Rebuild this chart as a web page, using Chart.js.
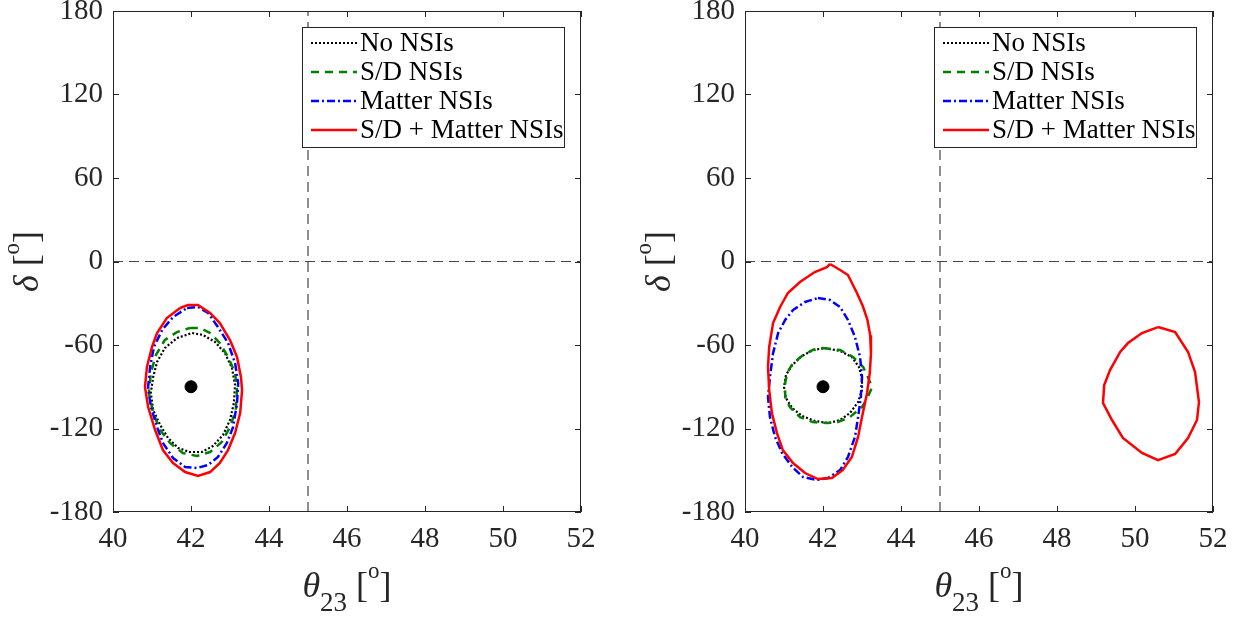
<!DOCTYPE html>
<html>
<head>
<meta charset="utf-8">
<script src="https://cdn.jsdelivr.net/npm/chart.js@4.4.1/dist/chart.umd.min.js"></script>
<style>
html, body { margin: 0; padding: 0; background: #fff; }
#wrap { position: relative; width: 1240px; height: 617px; }
.panel { position: absolute; top: 0; width: 620px; height: 617px; }
</style>
</head>
<body>
<div id="wrap">
    <div class="panel" style="left:0"><canvas id="leftChart" width="620" height="617"></canvas></div>
    <div class="panel" style="left:620px"><canvas id="rightChart" width="620" height="617"></canvas></div>
</div>
<script>
const xTicks = [40, 42, 44, 46, 48, 50, 52];
const yTicks = [-180, -120, -60, 0, 60, 120, 180];
const seriesNames = ['No NSIs', 'S/D NSIs', 'Matter NSIs', 'S/D + Matter NSIs'];
const bestFit = [[42, -90]];

// left panel contours [theta23, delta]
const leftNoNSI = [[42.03,-51.4],[42.31,-52.8],[42.62,-57.9],[42.87,-65.8],[43.05,-76.5],[43.13,-88.8],[43.1,-101.7],[43.0,-113.9],[42.82,-124.7],[42.56,-132.6],[42.28,-136.9],[41.97,-136.9],[41.67,-134.0],[41.41,-126.8],[41.21,-117.5],[41.03,-106.7],[40.97,-94.5],[41.03,-83.0],[41.13,-72.2],[41.33,-62.2],[41.64,-55.0],[42.03,-51.4]];
const leftSD = [[41.97,-47.8],[42.23,-47.8],[42.49,-51.4],[42.74,-58.6],[42.95,-68.6],[43.13,-80.1],[43.18,-92.3],[43.15,-106.7],[43.0,-118.9],[42.79,-129.7],[42.49,-136.9],[42.15,-139.8],[41.79,-137.6],[41.46,-130.4],[41.21,-121.1],[41.03,-108.9],[40.92,-94.5],[40.97,-80.1],[41.1,-67.2],[41.33,-56.4],[41.64,-50.7],[41.97,-47.8]];
const leftMatter = [[41.9,-33.4],[42.18,-32.7],[42.44,-37.0],[42.69,-47.1],[42.95,-58.6],[43.13,-73.0],[43.21,-87.3],[43.18,-101.7],[43.08,-118.9],[42.92,-130.4],[42.69,-140.5],[42.44,-146.2],[42.15,-148.4],[41.85,-147.7],[41.54,-141.2],[41.28,-130.4],[41.13,-118.9],[40.97,-104.6],[40.9,-90.2],[40.95,-75.8],[41.05,-61.4],[41.26,-49.2],[41.54,-39.9],[41.9,-33.4]];
const leftBoth = [[41.72,-33.4],[41.92,-31.3],[42.18,-31.3],[42.49,-37.0],[42.74,-44.2],[43.0,-56.4],[43.18,-68.6],[43.28,-83.0],[43.31,-92.3],[43.26,-108.9],[43.13,-123.3],[42.95,-135.5],[42.74,-144.8],[42.49,-151.3],[42.18,-154.1],[41.85,-151.3],[41.54,-144.8],[41.28,-135.5],[41.08,-121.1],[40.9,-104.6],[40.82,-90.2],[40.87,-75.8],[41.0,-61.4],[41.13,-51.4],[41.38,-40.6],[41.72,-33.4]];

// right panel contours
const rightNoNSI = [[42.05,-62.2],[42.44,-64.3],[42.74,-68.6],[42.92,-75.8],[43.0,-83.7],[43.0,-92.3],[42.9,-101.0],[42.69,-108.9],[42.44,-113.9],[42.13,-116.1],[41.79,-114.6],[41.46,-111.0],[41.21,-105.3],[41.05,-98.1],[41.0,-90.2],[41.05,-81.6],[41.21,-74.4],[41.46,-67.9],[41.74,-63.6],[42.05,-62.2]];
const rightSD = [[42.0,-62.2],[42.44,-63.6],[42.77,-68.6],[43.03,-75.8],[43.15,-83.0],[43.26,-90.2],[43.15,-97.4],[43.0,-104.6],[42.69,-111.8],[42.38,-115.4],[42.1,-116.1],[41.74,-115.4],[41.41,-111.8],[41.15,-104.6],[41.03,-97.4],[41.03,-87.3],[41.08,-80.1],[41.23,-73.0],[41.49,-67.2],[41.74,-63.6],[42.0,-62.2]];
const rightMatter = [[41.87,-26.2],[42.18,-27.7],[42.44,-32.7],[42.64,-42.0],[42.82,-54.3],[42.95,-68.6],[43.0,-83.0],[42.97,-97.4],[42.9,-111.8],[42.82,-126.1],[42.64,-140.5],[42.44,-149.8],[42.13,-155.6],[41.85,-157.0],[41.49,-154.9],[41.21,-147.7],[40.95,-137.6],[40.77,-126.1],[40.64,-111.8],[40.59,-97.4],[40.64,-83.0],[40.72,-65.8],[40.85,-51.4],[41.03,-42.0],[41.23,-34.9],[41.54,-29.1],[41.87,-26.2]];
const rightBoth = [[42.18,-1.8],[42.44,-6.1],[42.64,-9.7],[42.87,-22.6],[43.02,-32.0],[43.14,-42.0],[43.21,-53.0],[43.23,-66.0],[43.2,-80.1],[43.13,-94.5],[43.0,-111.8],[42.9,-126.1],[42.74,-140.5],[42.51,-149.8],[42.23,-155.6],[41.87,-156.3],[41.54,-152.0],[41.23,-144.8],[40.97,-135.5],[40.82,-123.3],[40.69,-108.9],[40.62,-92.3],[40.59,-75.8],[40.62,-61.4],[40.72,-44.2],[40.9,-32.7],[41.1,-22.6],[41.41,-14.7],[41.79,-7.6],[42.1,-4.0],[42.18,-1.8]];
const rightBoth2 = [[50.59,-47.1],[51.03,-50.7],[51.36,-65.0],[51.54,-79.4],[51.64,-101.0],[51.59,-113.9],[51.36,-126.8],[51.03,-138.3],[50.59,-142.7],[50.18,-137.6],[49.69,-126.8],[49.41,-113.9],[49.18,-101.7],[49.21,-88.8],[49.36,-78.0],[49.62,-65.0],[49.82,-58.6],[50.18,-51.4],[50.59,-47.1]];

const refTheta = [[45, -180], [45, 180]];
const refDelta = [[40, 0], [52, 0]];

const FONT = '"Liberation Serif", "Times New Roman", serif';
const INK = '#262626';

const styles = [
    { borderColor: '#000000', borderWidth: 2.2, borderDash: [2, 2] },
    { borderColor: '#007f00', borderWidth: 2.5, borderDash: [8, 6] },
    { borderColor: '#0000ff', borderWidth: 2.5, borderDash: [8, 3, 2, 3] },
    { borderColor: '#ff0000', borderWidth: 2.5, borderDash: [] }
];

const toPts = arr => arr.map(p => ({ x: p[0], y: p[1] }));

function contour(label, data, idx) {
    return Object.assign({
        label: label,
        data: toPts(data),
        showLine: true,
        pointRadius: 0,
        tension: 0,
        fill: false,
        inLegend: true
    }, styles[idx]);
}

function drawParts(ctx, parts, x, y) {
    parts.forEach(p => { ctx.font = p.f; ctx.fillText(p.t, x, y + p.dy); x += p.w; });
}

function measureParts(ctx, parts) {
    let total = 0;
    parts.forEach(p => { ctx.font = p.f; p.w = ctx.measureText(p.t).width; total += p.w; });
    return total;
}

// frame, inward ticks, axis titles and boxed legend
const panelDecor = {
    id: 'panelDecor',
    afterDraw(chart) {
        const ctx = chart.ctx;
        const a = chart.chartArea;
        const xs = chart.scales.x, ys = chart.scales.y;
        ctx.save();
        ctx.strokeStyle = INK;
        ctx.lineWidth = 1;
        ctx.setLineDash([]);
        ctx.strokeRect(a.left + 0.5, a.top + 0.5, a.right - a.left - 1, a.bottom - a.top - 1);
        ctx.beginPath();
        xTicks.forEach(v => {
            const px = Math.round(xs.getPixelForValue(v)) + 0.5;
            ctx.moveTo(px, a.bottom); ctx.lineTo(px, a.bottom - 6);
            ctx.moveTo(px, a.top); ctx.lineTo(px, a.top + 6);
        });
        yTicks.forEach(v => {
            const py = Math.round(ys.getPixelForValue(v)) + 0.5;
            ctx.moveTo(a.left, py); ctx.lineTo(a.left + 6, py);
            ctx.moveTo(a.right, py); ctx.lineTo(a.right - 6, py);
        });
        ctx.stroke();

        // x title: theta_23 [o]
        ctx.fillStyle = INK;
        ctx.textBaseline = 'alphabetic';
        ctx.textAlign = 'left';
        const parts = [
            { t: '\u03b8', f: 'italic 36px ' + FONT, dy: 0 },
            { t: '23', f: '27px ' + FONT, dy: 14 },
            { t: ' [', f: '36px ' + FONT, dy: 0 },
            { t: 'o', f: '23px ' + FONT, dy: -19 },
            { t: ']', f: '36px ' + FONT, dy: 0 }
        ];
        let total = measureParts(ctx, parts);
        drawParts(ctx, parts, (a.left + a.right) / 2 - total / 2, 597);

        // y title: delta [o]
        const yparts = [
            { t: '\u03b4', f: 'italic 36px ' + FONT, dy: 0 },
            { t: ' [', f: '36px ' + FONT, dy: 0 },
            { t: 'o', f: '23px ' + FONT, dy: -19 },
            { t: ']', f: '36px ' + FONT, dy: 0 }
        ];
        total = measureParts(ctx, yparts);
        ctx.save();
        ctx.translate(a.left - 75, (a.top + a.bottom) / 2);
        ctx.rotate(-Math.PI / 2);
        drawParts(ctx, yparts, -total / 2, 0);
        ctx.restore();

        // legend box
        const lw = 262, lh = 120;
        const lx = a.right - 17 - lw, ly = a.top + 16;
        ctx.fillStyle = '#fff';
        ctx.fillRect(lx, ly, lw, lh);
        ctx.strokeStyle = INK;
        ctx.lineWidth = 1;
        ctx.strokeRect(lx + 0.5, ly + 0.5, lw, lh);
        const items = chart.data.datasets.filter(d => d.inLegend).slice(0, 4);
        ctx.font = '27px ' + FONT;
        ctx.textBaseline = 'middle';
        items.forEach((d, i) => {
            const ry = ly + 16 + i * 29;
            ctx.strokeStyle = d.borderColor;
            ctx.lineWidth = d.borderWidth;
            ctx.setLineDash(d.borderDash);
            ctx.beginPath();
            ctx.moveTo(lx + 9, ry);
            ctx.lineTo(lx + 55, ry);
            ctx.stroke();
            ctx.setLineDash([]);
            ctx.fillStyle = '#000';
            ctx.fillText(d.label, lx + 58, ry + 1);
        });
        ctx.restore();
    }
};

function makePanel(canvasId, contours, yWidth, rightPad) {
    const canvas = document.getElementById(canvasId);
    if (!canvas) return;

    const refStyle = {
        showLine: true, pointRadius: 0, borderColor: '#444444',
        borderWidth: 1.2, borderDash: [10, 6], fill: false
    };

    const datasets = [];
    datasets.push({
        label: 'best fit', data: toPts(bestFit), showLine: false,
        pointRadius: 6, pointBackgroundColor: '#000', pointBorderColor: '#000', order: 0
    });
    contours.forEach((c, i) => {
        c.forEach(seg => {
            const ds = contour(seriesNames[i], seg, i);
            ds.order = 4 - i;
            datasets.push(ds);
        });
    });
    datasets.push(Object.assign({ label: 'ref theta', data: toPts(refTheta), order: 10 }, refStyle));
    datasets.push(Object.assign({ label: 'ref delta', data: toPts(refDelta), order: 10 }, refStyle));

    // keep one legend entry per series
    const seen = {};
    datasets.forEach(d => {
        if (d.inLegend) {
            if (seen[d.label]) d.inLegend = false;
            seen[d.label] = true;
        }
    });

    const tickFont = { family: FONT, size: 29 };

    return new Chart(canvas, {
        type: 'scatter',
        data: { datasets: datasets },
        options: {
            responsive: false,
            animation: false,
            layout: { padding: { left: 0, right: rightPad, top: 11, bottom: 0 } },
            plugins: {
                legend: { display: false },
                tooltip: { enabled: false }
            },
            scales: {
                x: {
                    type: 'linear', min: 40, max: 52,
                    afterBuildTicks: s => { s.ticks = xTicks.map(v => ({ value: v })); },
                    afterFit: s => { s.height = 105; s.paddingLeft = 0; s.paddingRight = 0; },
                    grid: { display: false, drawTicks: false },
                    border: { display: false },
                    ticks: { font: tickFont, color: INK, padding: 10, maxRotation: 0, autoSkip: false }
                },
                y: {
                    type: 'linear', min: -180, max: 180,
                    afterBuildTicks: s => { s.ticks = yTicks.map(v => ({ value: v })); },
                    afterFit: s => { s.width = yWidth; s.paddingTop = 0; s.paddingBottom = 0; },
                    grid: { display: false, drawTicks: false },
                    border: { display: false },
                    ticks: { font: tickFont, color: INK, padding: 10, autoSkip: false }
                }
            }
        },
        plugins: [panelDecor]
    });
}

makePanel('leftChart', [[leftNoNSI], [leftSD], [leftMatter], [leftBoth]], 113, 39);
makePanel('rightChart', [[rightNoNSI], [rightSD], [rightMatter], [rightBoth, rightBoth2]], 125, 27);
</script>
</body>
</html>
